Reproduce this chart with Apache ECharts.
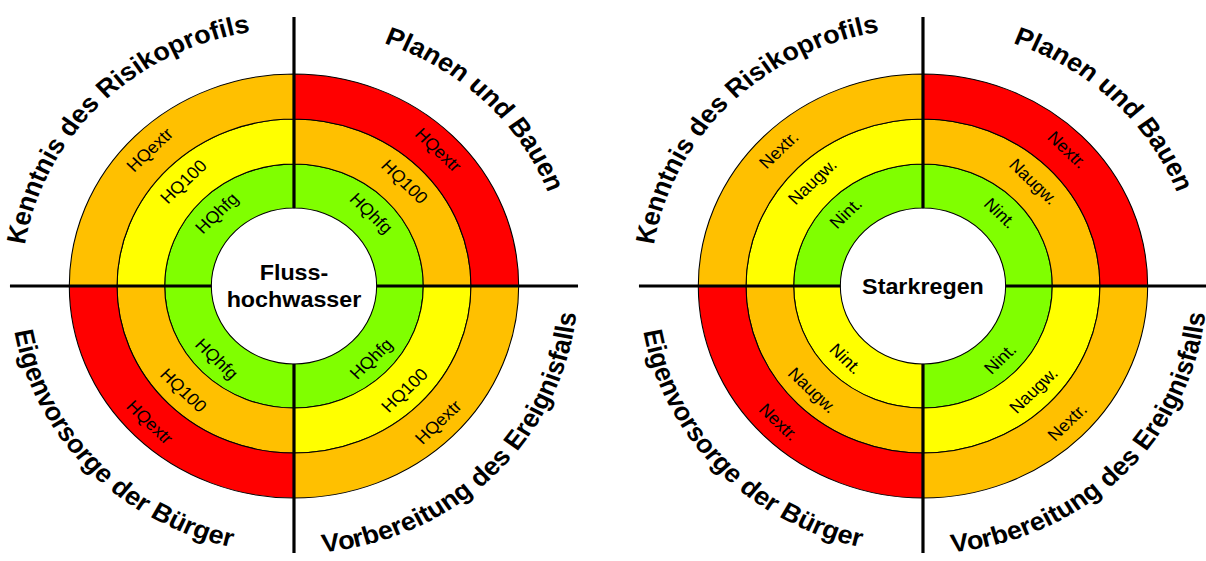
<!DOCTYPE html>
<html>
<head>
<meta charset="utf-8">
<script src="https://cdn.jsdelivr.net/npm/echarts@6/dist/echarts.min.js"></script>
<style>
html,body{margin:0;padding:0;background:#fff;overflow:hidden;width:1206px;height:561px;}
#chart{width:1138px;height:561px;transform:scaleX(1.0598);transform-origin:0 0;}
</style>
</head>
<body>
<div id="chart"></div>
<script>
// ---------- data ----------
const quadrants = ['Planen und Bauen', 'Vorbereitung des Ereignisfalls', 'Eigenvorsorge der Bürger', 'Kenntnis des Risikoprofils'];
const hazardTitles = ['Fluss-\nhochwasser', 'Starkregen'];
const ringLabelsFluss = ['HQhfg', 'HQ100', 'HQextr'];
const ringLabelsStark = ['Nint.', 'Naugw.', 'Nextr.'];
// risk level per ring (inner -> outer), per quadrant (top-right, bottom-right, bottom-left, top-left)
// 1 = green, 2 = yellow, 3 = orange, 4 = red
const levelsFluss = [[1, 1, 1, 1], [3, 2, 3, 2], [4, 3, 4, 3]];
const levelsStark = [[1, 1, 2, 1], [3, 2, 3, 2], [4, 3, 4, 3]];
const levelColors = { 1: '#80FF00', 2: '#FFFF00', 3: '#FFC000', 4: '#FF0000' };

// ---------- layout ----------
const FONT = '"Liberation Sans", Arial, Helvetica, sans-serif';
const CY = 286;
const centersX = [277.4, 870.9];
const ringRadii = [[78, 122], [122, 167], [167, 212]];
const innerR = 78;
const titleMidDeg = [46, -45, 223.5, 135];
const titleSide = ['top', 'bottom', 'bottom', 'top'];

const chart = echarts.init(document.getElementById('chart'), null, { renderer: 'svg' });

const series = [];
function addDonut(cx, levels, labels) {
  levels.forEach((ringLv, ri) => {
    series.push({
      type: 'pie',
      center: [cx, CY],
      radius: ringRadii[ri],
      startAngle: 90,
      clockwise: true,
      silent: true,
      animation: false,
      avoidLabelOverlap: false,
      emphasis: { disabled: true },
      itemStyle: { borderColor: '#000', borderWidth: 1 },
      label: {
        show: true, position: 'inside', rotate: 'tangential',
        formatter: () => labels[ri],
        fontSize: 17, fontFamily: FONT, color: '#000'
      },
      labelLine: { show: false },
      data: quadrants.map((q, qi) => ({ name: q, value: 1, itemStyle: { color: levelColors[ringLv[qi]] } }))
    });
  });
}
addDonut(centersX[0], levelsFluss, ringLabelsFluss);
addDonut(centersX[1], levelsStark, ringLabelsStark);

// curved quadrant titles
const mctx = document.createElement('canvas').getContext('2d');
const TITLE_FONT = 'bold 25.5px ' + FONT;
mctx.font = TITLE_FONT;
const graphics = [];
function arcText(text, cx, midDeg, side) {
  const Rb = side === 'top' ? 257 : 268;
  const Rc = side === 'top' ? 266 : 259;
  const total = mctx.measureText(text).width;
  const mid = midDeg * Math.PI / 180;
  const chars = Array.from(text);
  let prefix = '';
  const children = [];
  chars.forEach((ch) => {
    const p0 = mctx.measureText(prefix).width;
    const p1 = mctx.measureText(prefix + ch).width;
    prefix += ch;
    if (ch === ' ') return;
    const s = (p0 + p1) / 2 - total / 2;
    const th = side === 'top' ? mid - s / Rb : mid + s / Rb;
    children.push({
      type: 'text',
      x: cx + Rc * Math.cos(th),
      y: CY - Rc * Math.sin(th),
      rotation: side === 'top' ? th - Math.PI / 2 : th + Math.PI / 2,
      silent: true,
      z: 20,
      style: { text: ch, font: TITLE_FONT, fill: '#000', align: 'center', verticalAlign: 'middle', textAlign: 'center', textVerticalAlign: 'middle' }
    });
  });
  graphics.push({ type: 'group', name: text, children: children });
}

centersX.forEach((cx, ci) => {
  quadrants.forEach((q, qi) => arcText(q, cx, titleMidDeg[qi], titleSide[qi]));
  // axis cross lines
  const segs = [
    [cx - 268, CY, cx - innerR, CY], [cx + innerR, CY, cx + 268, CY],
    [cx, CY - 269, cx, CY - innerR], [cx, CY + innerR, cx, CY + 267]
  ];
  segs.forEach(s => graphics.push({
    type: 'line', silent: true, z: 15,
    shape: { x1: s[0], y1: s[1], x2: s[2], y2: s[3] },
    style: { stroke: '#000', lineWidth: 3 }
  }));
  // center label
  graphics.push({
    type: 'text', x: cx, y: CY, silent: true, z: 20,
    style: {
      text: hazardTitles[ci], font: 'bold 22px ' + FONT, fill: '#000',
      align: 'center', verticalAlign: 'middle', textAlign: 'center', textVerticalAlign: 'middle', lineHeight: 27
    }
  });
});

chart.setOption({
  backgroundColor: '#fff',
  animation: false,
  series: series,
  graphic: { elements: graphics }
});
</script>
</body>
</html>
